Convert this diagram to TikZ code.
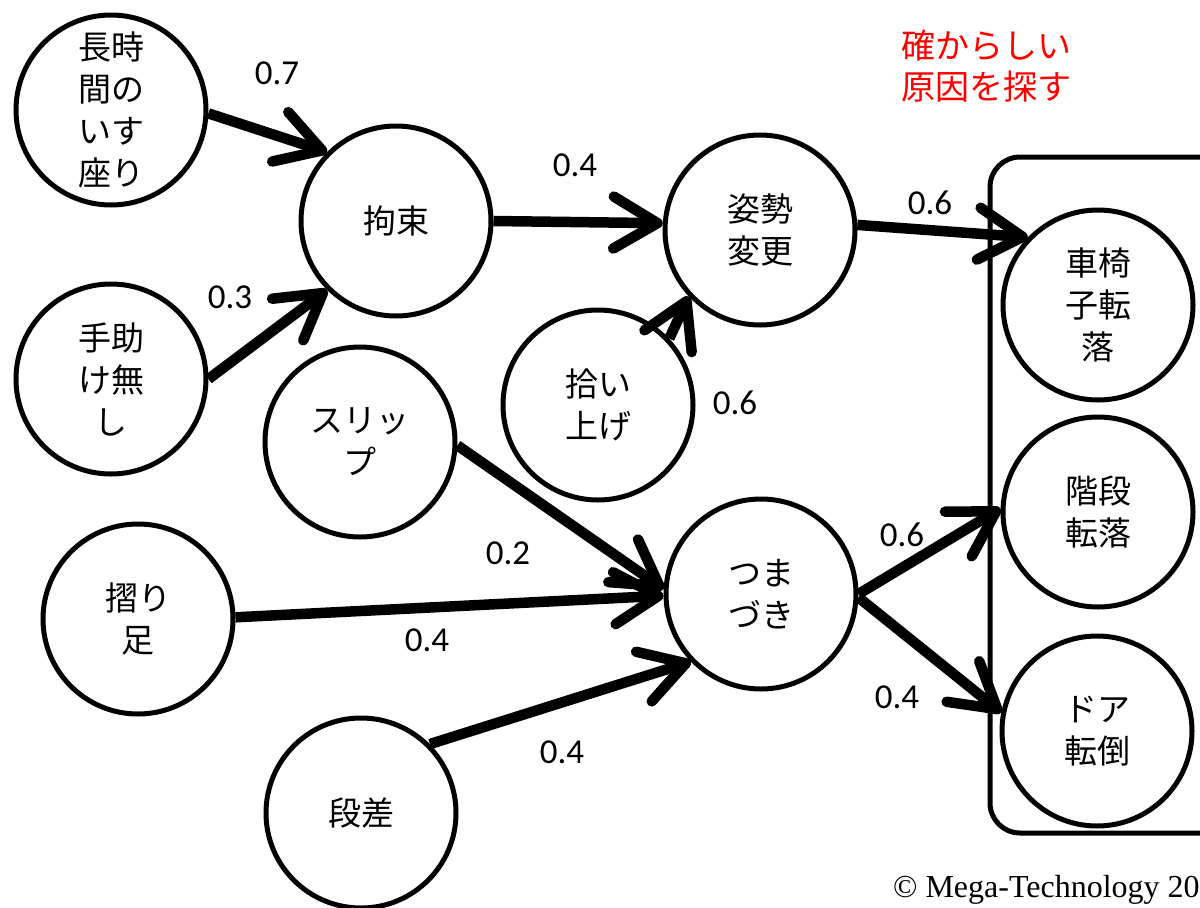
\documentclass[tikz,border=0pt]{standalone}
\usepackage{fontspec}
\newfontfamily\jp{Noto Sans CJK JP}
\newfontfamily\numf{Carlito}
\newfontfamily\copyf{Liberation Serif}
\usetikzlibrary{arrows.meta}
\begin{document}
\begin{tikzpicture}[x=1pt,y=-1pt,
  st/.style={circle, draw, line width=5pt, minimum size=190pt, inner sep=0pt, align=center, font=\jp\fontsize{33}{42}\selectfont},
  arr/.style={line width=10.5pt, -{Straight Barb[length=44pt,width=52pt,round]}},
  lab/.style={font=\numf\fontsize{35}{35}\selectfont, inner sep=0pt}]
\useasboundingbox (0,0) rectangle (1200,908);
% group box
\draw[line width=5pt, rounded corners=30pt] (990,157) rectangle (1240,833);
% nodes
\node[st] (l1) at (111,110) {長時\\間の\\いす\\座り};
\node[st] (l2) at (396,221) {拘束};
\node[st] (l3) at (111,379) {手助\\け無\\し};
\node[st] (l4) at (360,442) {スリッ\\プ};
\node[st] (l5) at (598,405) {拾い\\上げ};
\node[st] (l6) at (760,230) {姿勢\\変更};
\node[st] (l7) at (138,619) {摺り\\足};
\node[st] (l8) at (361,813) {段差};
\node[st] (l9) at (761,594) {つま\\づき};
\node[st] (r1) at (1098,305) {車椅\\子転\\落};
\node[st] (r2) at (1098,512) {階段\\転落};
\node[st] (r3) at (1097,731) {ドア\\転倒};
% arrows
\draw[arr] (l1.-2) -- (l2.135);
\draw[arr] (l3.0) -- (l2.225);
\draw[arr] (l2.0) -- (l6.176);
\draw[arr] (l5.43) -- (l6.223);
\draw[arr] (l6.3) -- (r1.136);
\draw[arr] (l4.-2) -- (l9.177);
\draw[arr] (l7.1) -- (l9.181);
\draw[arr] (l8.45) -- (l9.224);
\draw[arr] (l9.0) -- (r2.178);
\draw[arr] (l9.-2) -- (r3.169);
% labels
\node[lab] (w1) at (277,73) {0.7};
\node[lab] (w2) at (230,297) {0.3};
\node[lab] (w3) at (575,165) {0.4};
\node[lab] (w4) at (735,403) {0.6};
\node[lab] (w5) at (930,203) {0.6};
\node[lab] (w6) at (508,553) {0.2};
\node[lab] (w7) at (427,640) {0.4};
\node[lab] (w8) at (562,752) {0.4};
\node[lab] (w9) at (902,535) {0.6};
\node[lab] (w10) at (897,697) {0.4};
% red note
\node[anchor=west, align=left, text=red, inner sep=0pt, font=\jp\fontsize{34}{41}\selectfont] (note) at (901,66) {確からしい\\原因を探す};
% copyright
\node[anchor=base west, inner sep=0pt, font=\copyf\fontsize{32}{32}\selectfont] (copy) at (893,897) {© Mega-Technology 20};
\end{tikzpicture}
\end{document}
